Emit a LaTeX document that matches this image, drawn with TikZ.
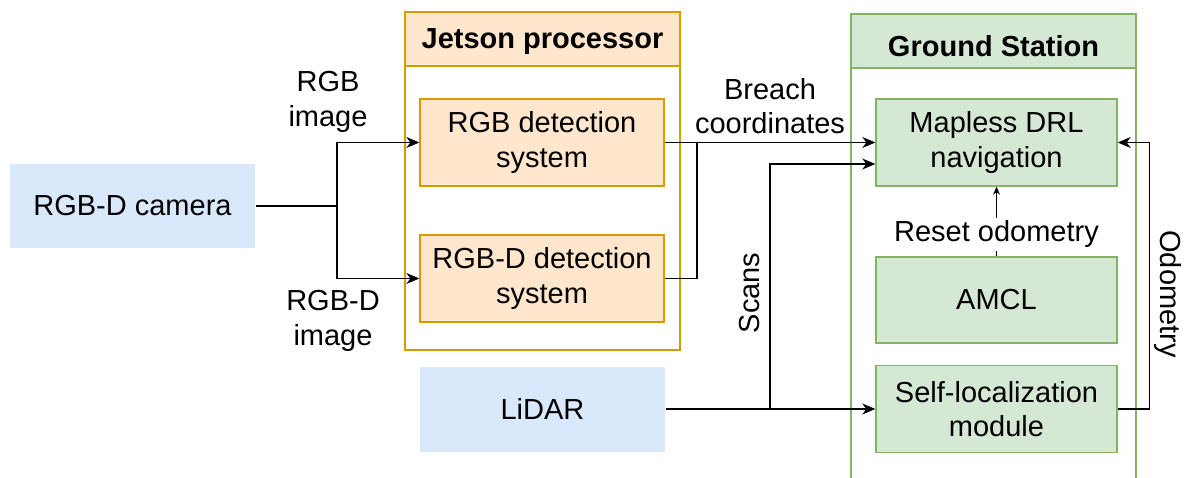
\documentclass[tikz,border=0pt]{standalone}
\usepackage{fontspec}
\setmainfont{Liberation Sans}
\usetikzlibrary{arrows.meta,calc}
\definecolor{blueFill}{HTML}{DAE8FC}
\definecolor{orangeFill}{HTML}{FFE6CC}
\definecolor{orangeLine}{HTML}{D79B00}
\definecolor{greenFill}{HTML}{D5E8D4}
\definecolor{greenLine}{HTML}{82B366}
\tikzset{
  txt/.style={font=\fontsize{29}{34.5}\selectfont, align=center, inner sep=0pt},
  block/.style={txt, minimum width=#1, minimum height=87pt, line width=1.4pt},
  srcbox/.style={block=245pt, fill=blueFill},
  jetbox/.style={block=244pt, fill=orangeFill, draw=orangeLine},
  gsbox/.style={block=241pt, fill=greenFill, draw=greenLine},
  wire/.style={line width=1.4pt},
  arr/.style={wire, -{Stealth[length=13pt, width=11pt, inset=4pt]}},
  smallarr/.style={wire, -{Stealth[length=8pt, width=7pt, inset=2.5pt]}},
  head/.style={txt, font=\fontsize{29}{34.5}\selectfont\bfseries}
}
\begin{document}
\begin{tikzpicture}[x=1pt, y=-1pt]
\useasboundingbox (0,0) rectangle (1190,478);

% Jetson processor container
\draw[orangeLine, line width=1.4pt] (405,12) rectangle (680,350);
\draw[orangeLine, fill=orangeFill, line width=1.4pt] (405,12) rectangle (680,66);
\node[head] (jettitle) at (542.5,42) {Jetson processor};

% Ground Station container
\draw[greenLine, line width=1.4pt] (851,14) rectangle (1136,495);
\draw[greenLine, fill=greenFill, line width=1.4pt] (851,14) rectangle (1136,68);
\node[head] (gstitle) at (993.5,46) {Ground Station};

% Sensors
\node[srcbox, minimum height=84pt] (cam) at (132.5,206) {RGB-D camera};
\node[srcbox, minimum height=85pt] (lidar) at (542.5,409) {LiDAR};

% Detection systems
\node[jetbox] (rgb) at (542,142.5) {RGB detection\\system};
\node[jetbox] (rgbd) at (542,278.5) {RGB-D detection\\system};

% Ground station modules
\node[gsbox] (drl) at (996.5,142.5) {Mapless DRL\\navigation};
\node[gsbox, minimum height=86pt] (amcl) at (996.5,300) {AMCL};
\node[gsbox] (selfloc) at (996.5,409) {Self-localization\\module};

% Camera streams
\coordinate (split) at (337,206);
\draw[wire] (cam.east) -- (split);
\draw[arr] (split) |- (rgb.west);
\draw[arr] (split) |- (rgbd.west);
\node[txt] (lblrgb) at (328,102) {RGB\\image};
\node[txt] (lblrgbd) at (333,321) {RGB-D\\image};

% Breach coordinates
\coordinate (merge) at (697,142.5);
\draw[arr] (rgb.east) -- (drl.west);
\draw[wire] (rgbd.east) -| (merge);
\node[txt] (lblbreach) at (770,106) {Breach\\coordinates};

% Laser scans
\coordinate (scansplit) at (770,409);
\draw[arr] (lidar.east) -- (selfloc.west);
\draw[arr] (scansplit) |- ($(drl.west)+(0,21.5)$);
\node[txt, rotate=90] (lblscans) at (750,293) {Scans};

% Odometry feedback
\draw[arr] (selfloc.east) -- ++(32,0) |- (drl.east);
\node[txt, rotate=-90] (lblodom) at (1168,294) {Odometry};

% Odometry reset
\draw[smallarr] (amcl.north) -- (drl.south)
  node[txt, pos=0.32, fill=white, inner sep=3pt] (lblreset) {Reset odometry};
\end{tikzpicture}
\end{document}
